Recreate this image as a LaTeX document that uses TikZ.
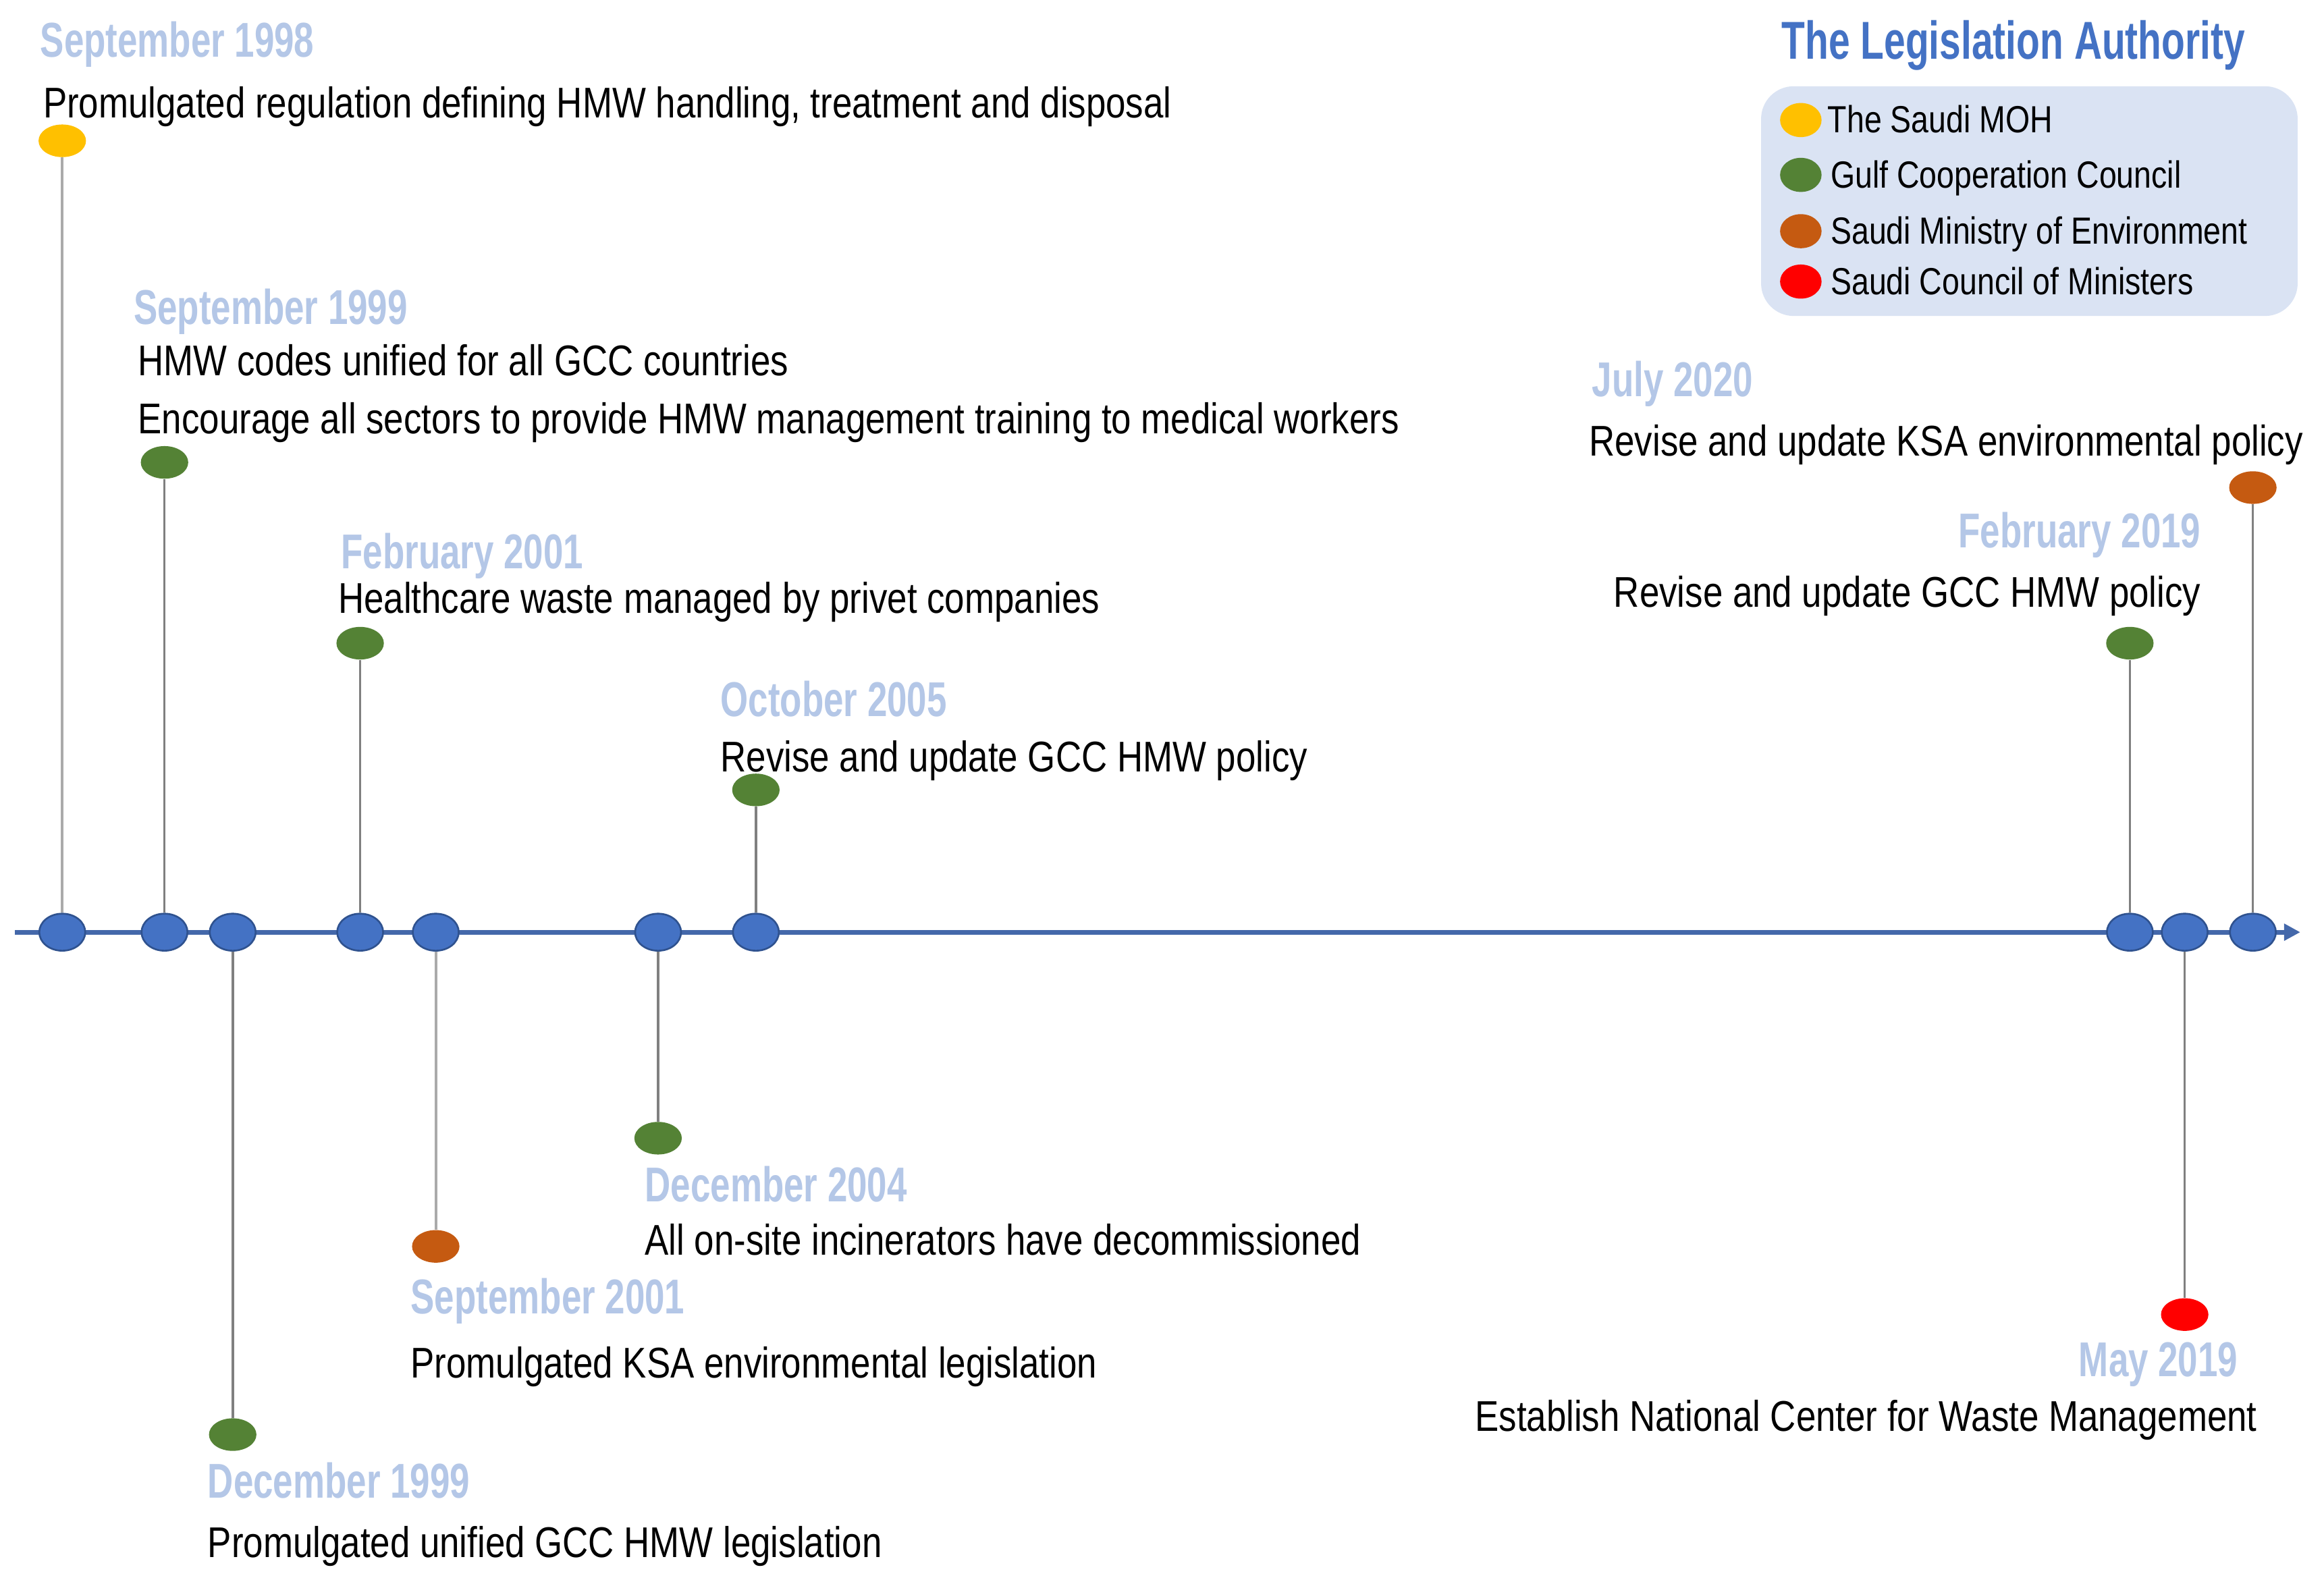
\documentclass[tikz,border=0pt]{standalone}
\usepackage{fontspec}
\setmainfont[FakeStretch=0.83]{Liberation Sans}
\newfontfamily\datefont[FakeStretch=0.73]{Liberation Sans}
\newfontfamily\titlefont[FakeStretch=0.72]{Liberation Sans}
\usetikzlibrary{shapes.geometric,arrows.meta}
\definecolor{datecol}{RGB}{180,199,231}
\definecolor{titlecol}{RGB}{68,114,196}
\definecolor{axiscol}{RGB}{68,104,170}
\definecolor{dotfill}{RGB}{68,114,196}
\definecolor{dotdraw}{RGB}{47,82,143}
\definecolor{cyel}{RGB}{255,192,0}
\definecolor{cgrn}{RGB}{84,130,53}
\definecolor{corg}{RGB}{197,90,17}
\definecolor{cred}{RGB}{255,0,0}
\definecolor{legbg}{RGB}{218,227,243}
\definecolor{stemdark}{RGB}{128,128,128}
\definecolor{stemlight}{RGB}{170,170,170}
\begin{document}
\begin{tikzpicture}[x=1pt,y=-1pt,
  axdot/.style={ellipse,fill=dotfill,draw=dotdraw,line width=1.2pt,minimum width=31pt,minimum height=25pt,inner sep=0pt},
  evdot/.style={ellipse,fill=#1,minimum width=32pt,minimum height=22pt,inner sep=0pt},
  legdot/.style={ellipse,fill=#1,minimum width=28pt,minimum height=23pt,inner sep=0pt},
  datelbl/.style={anchor=mid west,inner sep=0pt,text=datecol,font=\datefont\bfseries\fontsize{33}{38}\selectfont},
  datelblr/.style={anchor=mid east,inner sep=0pt,text=datecol,font=\datefont\bfseries\fontsize{33}{38}\selectfont},
  body/.style={anchor=mid west,inner sep=0pt,text=black,font=\fontsize{29}{34}\selectfont},
  bodyr/.style={anchor=mid east,inner sep=0pt,text=black,font=\fontsize{29}{34}\selectfont},
  legtxt/.style={anchor=mid west,inner sep=0pt,text=black,font=\fontsize{25.5}{30}\selectfont},
  stem/.style={draw=stemdark,line width=1.6pt},
  stemlt/.style={draw=stemlight,line width=1.8pt}
]
\useasboundingbox (0,0) rectangle (1568,1066);
\fill[white] (0,0) rectangle (1568,1066);

% axis
\coordinate (axs) at (10,629);
\coordinate (axe) at (1552,629);
\draw[axiscol,line width=3.2pt,-{Triangle[length=11pt,width=11pt]}] (axs) -- (axe);

% axis dots
\node[axdot] (a1) at (42,629) {};
\node[axdot] (a2) at (111,629) {};
\node[axdot] (a3) at (157,629) {};
\node[axdot] (a4) at (243,629) {};
\node[axdot] (a5) at (294,629) {};
\node[axdot] (a6) at (444,629) {};
\node[axdot] (a7) at (510,629) {};
\node[axdot] (a8) at (1437,629) {};
\node[axdot] (a9) at (1474,629) {};
\node[axdot] (a10) at (1520,629) {};

% event dots
\node[evdot=cyel] (e1) at (42,95) {};
\node[evdot=cgrn] (e2) at (111,312) {};
\node[evdot=cgrn] (e3) at (157,968) {};
\node[evdot=cgrn] (e4) at (243,434) {};
\node[evdot=corg] (e5) at (294,841) {};
\node[evdot=cgrn] (e6) at (444,768) {};
\node[evdot=cgrn] (e7) at (510,533) {};
\node[evdot=cgrn] (e8) at (1437,434) {};
\node[evdot=cred] (e9) at (1474,887) {};
\node[evdot=corg] (e10) at (1520,329) {};

% stems
\draw[stemlt] (e1) -- (a1);
\draw[stem] (e2) -- (a2);
\draw[stem] (a3) -- (e3);
\draw[stem] (e4) -- (a4);
\draw[stemlt] (a5) -- (e5);
\draw[stem] (a6) -- (e6);
\draw[stem] (e7) -- (a7);
\draw[stem] (e8) -- (a8);
\draw[stem] (a9) -- (e9);
\draw[stem] (e10) -- (a10);

% labels
\node[datelbl] (d1) at (27,36) {September 1998};
\node[body] (t1) at (29,77) {Promulgated regulation defining HMW handling, treatment and disposal};

\node[datelbl] (d2) at (90,216) {September 1999};
\node[body] (t2a) at (93,251) {HMW codes unified for all GCC countries};
\node[body] (t2b) at (93,290) {Encourage all sectors to provide HMW management training to medical workers};

\node[datelbl] (d4) at (230,381) {February 2001};
\node[body] (t4) at (228,411) {Healthcare waste managed by privet companies};

\node[datelbl] (d7) at (486,481) {October 2005};
\node[body] (t7) at (486,518) {Revise and update GCC HMW policy};

\node[datelbl] (d6) at (435,808) {December 2004};
\node[body] (t6) at (435,844) {All on-site incinerators have decommissioned};

\node[datelbl] (d5) at (277,884) {September 2001};
\node[body] (t5) at (277,927) {Promulgated KSA environmental legislation};

\node[datelbl] (d3) at (140,1008) {December 1999};
\node[body] (t3) at (140,1048) {Promulgated unified GCC HMW legislation};

\node[datelbl] (d10) at (1074,265) {July 2020};
\node[body] (t10) at (1072,305) {Revise and update KSA environmental policy};

\node[datelblr] (d8) at (1485,367) {February 2019};
\node[bodyr] (t8) at (1485,407) {Revise and update GCC HMW policy};

\node[datelblr] (d9) at (1510,926) {May 2019};
\node[bodyr] (t9) at (1523,963) {Establish National Center for Waste Management};

% legend
\node[anchor=mid west,inner sep=0pt,text=titlecol,font=\titlefont\bfseries\fontsize{36}{40}\selectfont] (title) at (1202,37) {The Legislation Authority};
\node[draw=none,fill=legbg,rounded corners=22pt,minimum width=362pt,minimum height=155pt,anchor=north west] (legbox) at (1188,58) {};
\node[legdot=cyel] (l1) at (1215,81) {};
\node[legdot=cgrn] (l2) at (1215,118) {};
\node[legdot=corg] (l3) at (1215,156) {};
\node[legdot=cred] (l4) at (1215,190) {};
\node[legtxt] (lt1) at (1233,87) {The Saudi MOH};
\node[legtxt] (lt2) at (1235,124) {Gulf Cooperation Council};
\node[legtxt] (lt3) at (1235,162) {Saudi Ministry of Environment};
\node[legtxt] (lt4) at (1235,196) {Saudi Council of Ministers};
\end{tikzpicture}
\end{document}
